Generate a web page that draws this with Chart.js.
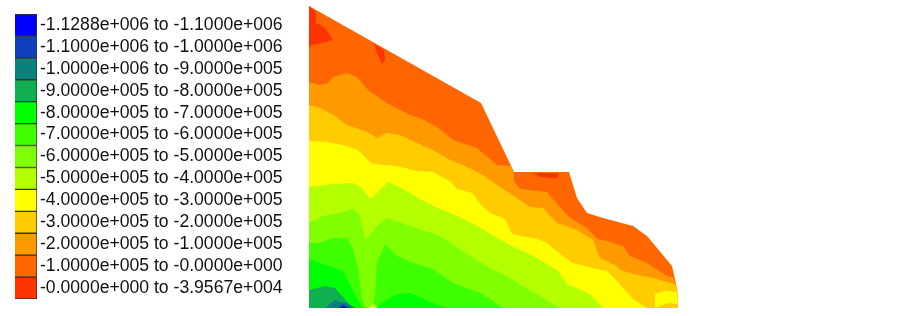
<!DOCTYPE html>
<html>
<head>
<meta charset="utf-8">
<script src="https://cdn.jsdelivr.net/npm/chart.js@4"></script>
<style>
  html, body { margin: 0; background: #fff; overflow: hidden; }
  canvas { position: absolute; }
  #key { left: 0; top: 0; filter: blur(0.3px); }
  #map { left: 309px; top: 6px; filter: blur(0.7px); }
</style>
</head>
<body>
<canvas id="key" width="300" height="316"></canvas>
<canvas id="map" width="370" height="303"></canvas>
<script>
// Colour key, top to bottom
const bandLabels = [
    "-1.1288e+006 to -1.1000e+006", "-1.1000e+006 to -1.0000e+006", "-1.0000e+006 to -9.0000e+005",
    "-9.0000e+005 to -8.0000e+005", "-8.0000e+005 to -7.0000e+005", "-7.0000e+005 to -6.0000e+005",
    "-6.0000e+005 to -5.0000e+005", "-5.0000e+005 to -4.0000e+005", "-4.0000e+005 to -3.0000e+005",
    "-3.0000e+005 to -2.0000e+005", "-2.0000e+005 to -1.0000e+005", "-1.0000e+005 to -0.0000e+000",
    "-0.0000e+000 to -3.9567e+004"
];
const bandColors = [
    "#0000ff", "#1040c0", "#0a8080", "#10b050", "#00ff00", "#40ff00", "#80ff00",
    "#b4ff00", "#ffff00", "#ffcc00", "#ff9900", "#ff6600", "#ff3300"
];
const keyBars = [1, 1, 1, 1, 1, 1, 1, 1, 1, 1, 1, 1, 1];

// Contour regions, [distance, depth from crest], painted back to front
const slopeOutline = [[0,0],[172,97],[205,166],[260,166],[268,192],[278,207],[294,212],[324,220],[338,230],[363,260],[368,282],[369,302],[0,302]];
const below100k = [[0,76],[11,79],[19,77],[24,71],[38,67],[48,71],[59,84],[78,97],[101,109],[111,112],[128,121],[144,134],[168,142],[188,159],[202,160],[205,166],[205,175],[211,183],[238,186],[248,198],[261,212],[278,222],[288,233],[298,235],[314,240],[321,250],[338,257],[358,270],[364,271],[368,282],[369,302],[0,302]];
const below200k = [[0,99],[11,102],[24,109],[38,119],[58,126],[68,132],[78,127],[91,129],[108,137],[124,144],[141,154],[154,159],[174,169],[191,181],[206,191],[221,201],[234,202],[248,217],[268,224],[284,234],[291,252],[308,260],[311,264],[328,269],[344,272],[368,279],[369,302],[0,302]];
const below300k = [[0,135],[18,136],[34,139],[49,144],[59,154],[64,158],[88,160],[108,165],[124,166],[141,175],[148,183],[163,187],[173,200],[181,207],[196,213],[203,228],[228,233],[238,237],[251,248],[264,257],[288,263],[298,265],[308,275],[314,282],[324,293],[338,302],[0,302]];
const toePatch300k = [[346,288],[356,285],[368,286],[369,298],[359,297],[346,302]];
const below400k = [[0,181],[24,178],[44,177],[53,182],[61,193],[68,187],[79,176],[94,183],[118,197],[148,210],[174,223],[181,228],[201,239],[224,250],[248,264],[258,278],[281,288],[294,302],[0,302]];
const below500k = [[0,217],[14,210],[31,207],[44,203],[51,210],[56,232],[58,233],[66,222],[78,212],[101,220],[131,230],[158,248],[181,262],[198,270],[218,283],[251,302],[0,302]];
const below600kLeft = [[0,237],[11,237],[24,232],[38,232],[44,243],[49,263],[53,293],[57,302],[0,302]];
const below600kRight = [[63,302],[66,290],[68,257],[76,238],[88,250],[104,257],[124,263],[144,277],[171,287],[181,293],[194,302]];
const below700kLeft = [[0,253],[14,258],[34,265],[41,279],[49,294],[53,302],[0,302]];
const below700kRight = [[67,302],[73,297],[88,288],[101,287],[124,297],[138,302]];
const below800k = [[0,284],[16,280],[26,282],[34,291],[41,299],[46,302],[0,302]];
const below900k = [[16,302],[26,294],[31,296],[38,297],[46,302]];
const below1000k = [[29,302],[34,298],[39,301],[41,302]];
const below1100k = [[32,302],[35,300],[38,302]];
const crestTension1 = [[0,0],[7,6],[7,17],[15,21],[24,34],[14,37],[3,39],[0,42]];
const crestTension2 = [[65,38],[75,44],[76,54],[73,58],[68,47]];
const benchTension = [[224,167],[250,167],[248,172],[241,172],[231,171]];
const footPeak1 = [[59,302],[64,297],[69,302]];
const footPeak2 = [[62,302],[64,300],[66,302]];

new Chart(document.getElementById("key"), {
    type: "bar",
    data: {
        labels: bandLabels,
        datasets: [{
            data: keyBars,
            backgroundColor: bandColors,
            borderColor: "#333",
            borderWidth: 1,
            barPercentage: 1,
            categoryPercentage: 1
        }]
    },
    options: {
        indexAxis: "y",
        responsive: false,
        animation: false,
        layout: { padding: { left: 15, top: 14, bottom: 17 } },
        plugins: { legend: { display: false }, tooltip: { enabled: false } },
        scales: {
            x: { display: false, min: 0, max: 1 },
            y: {
                position: "right",
                grid: { display: false, tickLength: 0 },
                border: { display: false },
                afterFit: scale => { scale.width = 263; },
                ticks: {
                    autoSkip: false,
                    padding: 3,
                    color: "#111",
                    font: { family: "'Liberation Sans'", size: 17.6 }
                }
            }
        }
    }
});

// One filled shape per contour region
const region = (points, color) => ({
    data: points.map(([x, y]) => ({ x, y })),
    showLine: true,
    fill: "shape",
    backgroundColor: color,
    borderWidth: 0,
    pointRadius: 0,
    tension: 0
});

// Chart.js paints the first dataset last, so the list runs front to back
new Chart(document.getElementById("map"), {
    type: "scatter",
    data: {
        datasets: [
            region(footPeak2, "#ffff00"),
            region(footPeak1, "#b4ff00"),
            region(below1100k, "#0000ff"),
            region(below1000k, "#1040c0"),
            region(below900k, "#0a8080"),
            region(below800k, "#10b050"),
            region(below700kRight, "#00ff00"),
            region(below700kLeft, "#00ff00"),
            region(below600kRight, "#40ff00"),
            region(below600kLeft, "#40ff00"),
            region(below500k, "#80ff00"),
            region(below400k, "#b4ff00"),
            region(toePatch300k, "#ffff00"),
            region(below300k, "#ffff00"),
            region(below200k, "#ffcc00"),
            region(below100k, "#ff9900"),
            region(benchTension, "#ff3300"),
            region(crestTension2, "#ff3300"),
            region(crestTension1, "#ff3300"),
            region(slopeOutline, "#ff6600")
        ]
    },
    options: {
        responsive: false,
        animation: false,
        plugins: { legend: { display: false }, tooltip: { enabled: false } },
        scales: {
            x: { type: "linear", display: false, min: 0, max: 370 },
            y: { type: "linear", display: false, reverse: true, min: 0, max: 303 }
        }
    }
});
</script>
</body>
</html>
